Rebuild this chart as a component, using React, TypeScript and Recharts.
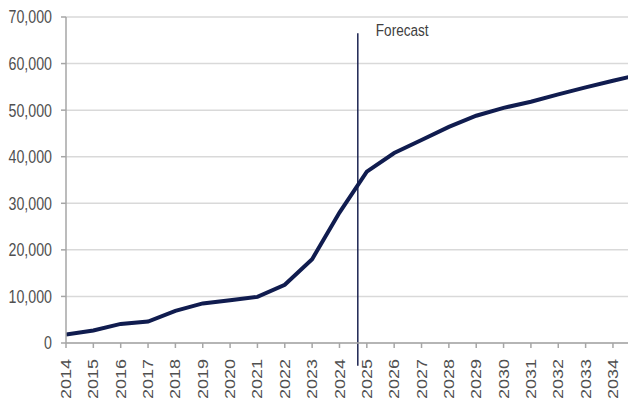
import React from 'react';
import { LineChart, Line, XAxis, YAxis, CartesianGrid, ReferenceLine } from 'recharts';

const years = [2014, 2015, 2016, 2017, 2018, 2019, 2020, 2021, 2022, 2023, 2024, 2025, 2026, 2027, 2028, 2029, 2030, 2031, 2032, 2033, 2034, 2035];
const values = [1800, 2700, 4100, 4600, 6900, 8500, 9200, 9900, 12500, 18000, 28000, 36800, 40800, 43600, 46400, 48800, 50500, 51800, 53400, 54900, 56300, 57700];
const xTicks = [2014, 2015, 2016, 2017, 2018, 2019, 2020, 2021, 2022, 2023, 2024, 2025, 2026, 2027, 2028, 2029, 2030, 2031, 2032, 2033, 2034];
const yTicks = [0, 10000, 20000, 30000, 40000, 50000, 60000, 70000];
const forecastYear = 2024.67;
const forecastLabel = 'Forecast';

const data = years.map((y, i) => ({ year: y, value: values[i] }));

const fmt = (v: number) => v.toLocaleString('en-US');

const FONT = "'Liberation Sans', Arial, sans-serif";

const XTick = (props: any) => {
  const { x, y, payload } = props;
  return (
    <g transform={`translate(${x},${y + 9})`}>
      <text
        transform="rotate(-90) scale(1,0.78)"
        textAnchor="end"
        dy="0.36em"
        fontFamily={FONT}
        fontSize={18}
        fill="#505050"
      >
        {payload.value}
      </text>
    </g>
  );
};

const YTick = (props: any) => {
  const { x, y, payload } = props;
  return (
    <g transform={`translate(${x - 7},${y}) scale(0.79,1)`}>
      <text
        x={0}
        y={0}
        dy="0.36em"
        textAnchor="end"
        fontFamily={FONT}
        fontSize={18}
        fill="#505050"
      >
        {fmt(payload.value)}
      </text>
    </g>
  );
};

export default function App() {
  return (
    <div style={{ position: 'absolute', left: 0, top: 0, width: 628, height: 401, overflow: 'hidden', background: '#fff' }}>
      <LineChart width={628} height={401} data={data} margin={{ top: 17, right: 0, left: 0, bottom: 0 }}>
        <CartesianGrid vertical={false} stroke="#d9d9d9" strokeWidth={1.5} />
        <XAxis
          dataKey="year"
          type="number"
          domain={[2014, 2034.55]}
          allowDataOverflow
          ticks={xTicks}
          interval={0}
          height={58}
          tick={<XTick />}
          tickSize={5}
          stroke="#a6a6a6"
          strokeWidth={1.5}
        />
        <YAxis
          domain={[0, 70000]}
          ticks={yTicks}
          width={66}
          tick={<YTick />}
          tickSize={5}
          stroke="#a6a6a6"
          strokeWidth={1.5}
          interval={0}
        />
        <ReferenceLine
          segment={[{ x: forecastYear, y: 66500 }, { x: forecastYear, y: -4900 }]}
          stroke="#1c2452"
          strokeWidth={1.5}
          ifOverflow="visible"
          label={(p: any) => {
            const vb = p.viewBox || {};
            return (
              <g transform={`translate(${(vb.x ?? 0) + 18},${(vb.y ?? 0) + 3}) scale(0.8,1)`}>
                <text x={0} y={0} fontFamily={FONT} fontSize={17} fill="#404040">
                  {forecastLabel}
                </text>
              </g>
            );
          }}
        />
        <Line
          type="linear"
          dataKey="value"
          stroke="#101c4f"
          strokeWidth={4}
          dot={false}
          isAnimationActive={false}
        />
      </LineChart>
    </div>
  );
}
